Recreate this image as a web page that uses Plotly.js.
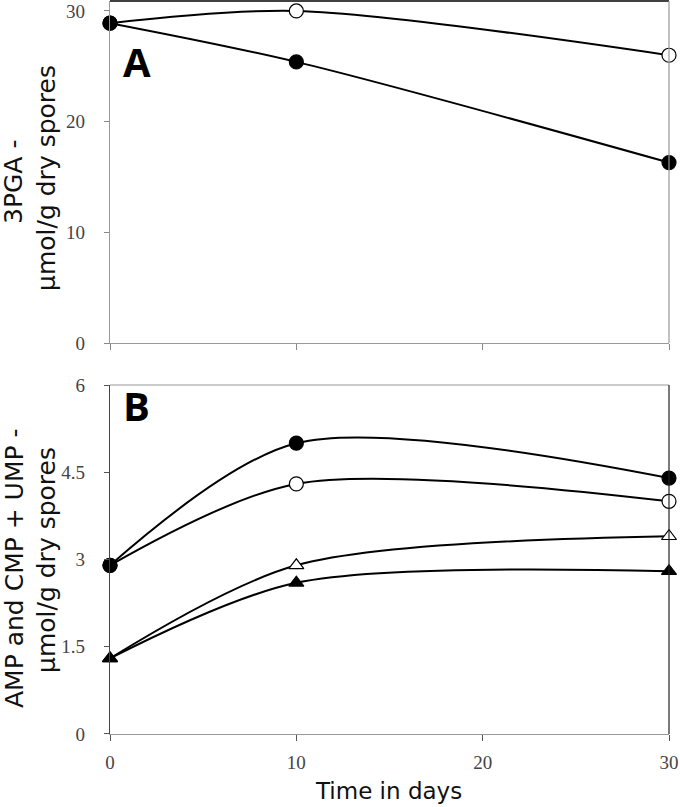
<!DOCTYPE html>
<html>
<head>
<meta charset="utf-8">
<script src="https://cdn.plot.ly/plotly-3.0.1.min.js"></script>
<style>html,body{margin:0;padding:0;background:#fff;}#chart{width:680px;height:807px;}</style>
</head>
<body>
<div id="chart"></div>
<script>
// Time points (days)
const days = [0, 10, 30];

// Panel A: 3PGA (µmol/g dry spores)
const pgaFilled = [28.9, 25.4, 16.3];
const pgaOpen = [28.9, 30.0, 26.0];

// Panel B: AMP and CMP + UMP (µmol/g dry spores)
const bFilledCircle = [2.9, 5.0, 4.4];
const bOpenCircle = [2.9, 4.3, 4.0];
const bOpenTriangle = [1.3, 2.9, 3.4];
const bFilledTriangle = [1.3, 2.6, 2.8];

const xTicks = [0, 10, 20, 30];
const yTicksA = [0, 10, 20, 30];
const yTicksB = [0, 1.5, 3, 4.5, 6];

const lineStyle = {color: '#000', width: 2, shape: 'spline', smoothing: 0.85};

function trace(x, y, xa, ya, symbol, fill, size) {
  return {
    x: x, y: y, xaxis: xa, yaxis: ya, type: 'scatter', mode: 'lines+markers',
    line: lineStyle, cliponaxis: false, showlegend: false, hoverinfo: 'x+y',
    marker: {symbol: symbol, size: size, color: fill, line: {color: '#000', width: 1.2}}
  };
}

const data = [
  trace(days, pgaOpen, 'x', 'y', 'circle', '#fff', 14),
  trace(days, pgaFilled, 'x', 'y', 'circle', '#000', 14),
  trace(days, bOpenCircle, 'x2', 'y2', 'circle', '#fff', 14),
  trace(days, bFilledCircle, 'x2', 'y2', 'circle', '#000', 14),
  trace(days, bOpenTriangle, 'x2', 'y2', 'triangle-up', '#fff', 13),
  trace(days, bFilledTriangle, 'x2', 'y2', 'triangle-up', '#000', 13)
];

const tickFont = () => ({family: 'Liberation Serif', size: 19, color: '#444'});
const yTitleFont = {family: 'DejaVu Sans', size: 25, color: '#111'};
const xTitleFont = {family: 'DejaVu Sans', size: 23, color: '#111'};

function ann(text, px, py, angle, font) {
  return {text: text, xref: 'paper', yref: 'paper', x: (px - 110) / 559, y: (734 - py) / 733,
    xanchor: 'center', yanchor: 'middle', textangle: angle, showarrow: false, font: font};
}

const layout = {
  width: 680, height: 807,
  margin: {l: 110, r: 11, t: 1, b: 73},
  paper_bgcolor: '#fff', plot_bgcolor: '#fff',
  xaxis: {
    domain: [0, 1], range: [0, 30], anchor: 'y',
    tickvals: xTicks, showticklabels: false, ticks: 'outside', ticklen: 6, tickcolor: '#888',
    showline: true, linecolor: '#999', linewidth: 1.2, showgrid: false, zeroline: false
  },
  yaxis: {
    domain: [0.5334, 1], range: [0, 30.9], anchor: 'x',
    tickvals: yTicksA, ticks: 'outside', ticklen: 5, tickcolor: '#888',
    tickfont: tickFont(), ticklabelstandoff: 15,
    showline: true, linecolor: '#999', linewidth: 1.2, showgrid: false, zeroline: false
  },
  xaxis2: {
    domain: [0, 1], range: [0, 30], anchor: 'y2',
    tickvals: xTicks, ticks: 'outside', ticklen: 6, tickcolor: '#555',
    tickfont: tickFont(), ticklabelstandoff: 5,
    showline: true, linecolor: '#999', linewidth: 1.2, showgrid: false, zeroline: false
  },
  yaxis2: {
    domain: [0, 0.4761], range: [0, 6], anchor: 'x2',
    tickvals: yTicksB, ticks: 'outside', ticklen: 5, tickcolor: '#555',
    tickfont: tickFont(), ticklabelstandoff: 15,
    showline: true, linecolor: '#444', linewidth: 1.2, showgrid: false, zeroline: false
  },
  shapes: [
    {type: 'line', xref: 'x domain', yref: 'y domain', x0: 0, x1: 1, y0: 1, y1: 1, line: {color: '#000', width: 1.5}},
    {type: 'line', xref: 'x domain', yref: 'y domain', x0: 1, x1: 1, y0: 0, y1: 1, line: {color: '#999', width: 1.2}},
    {type: 'line', xref: 'x2 domain', yref: 'y2 domain', x0: 0, x1: 1, y0: 1, y1: 1, line: {color: '#999', width: 1.2}},
    {type: 'line', xref: 'x2 domain', yref: 'y2 domain', x0: 1, x1: 1, y0: 0, y1: 1, line: {color: '#222', width: 1.2}}
  ],
  annotations: [
    {text: '<b>A</b>', xref: 'paper', yref: 'paper', x: 0.02, y: 0.9168, xanchor: 'left', yanchor: 'middle',
     showarrow: false, font: {family: 'Open Sans', size: 40, color: '#000'}},
    {text: '<b>B</b>', xref: 'paper', yref: 'paper', x: 0.02, y: 0.4488, xanchor: 'left', yanchor: 'middle',
     showarrow: false, font: {family: 'Open Sans', size: 40, color: '#000'}},
    ann('3PGA -', 14, 182, -90, yTitleFont),
    ann('µmol/g dry spores', 46, 178, -90, yTitleFont),
    ann('AMP and CMP + UMP -', 14, 568, -90, yTitleFont),
    ann('µmol/g dry spores', 46, 560, -90, yTitleFont),
    ann('Time in days', 388, 791, 0, xTitleFont)
  ]
};

Plotly.newPlot('chart', data, layout, {displayModeBar: false, staticPlot: true});
</script>
</body>
</html>
